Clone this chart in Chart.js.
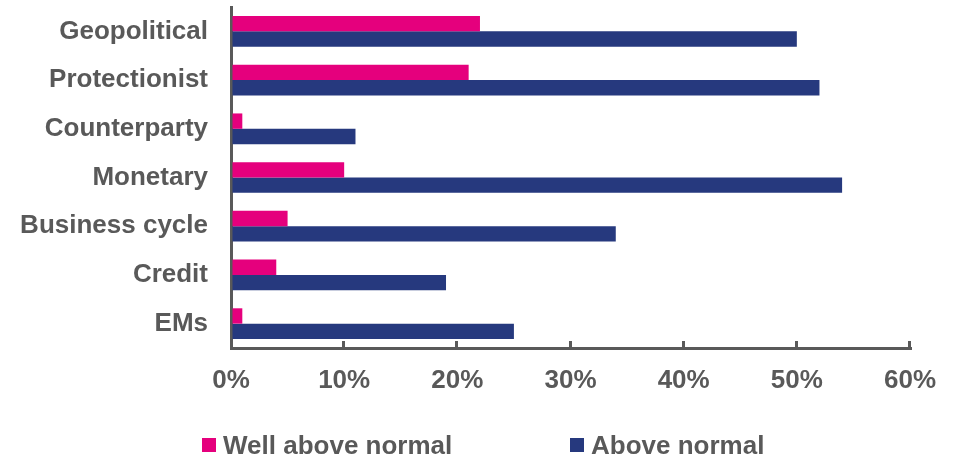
<!DOCTYPE html>
<html>
<head>
<meta charset="utf-8">
<script src="https://cdn.jsdelivr.net/npm/chart.js@4/dist/chart.umd.min.js"></script>
<style>
  body { margin: 0; background: #fff; }
  #wrap { position: relative; width: 953px; height: 456px; }
  #legend { position: absolute; top: 430px; left: 0; width: 953px; height: 30px;
            font: bold 26px "Liberation Sans", Arial, sans-serif; color: #595959; }
  .item { position: absolute; top: 0; display: flex; align-items: center; line-height: 30px; }
  .box { width: 14px; height: 14px; margin-right: 7px; }
</style>
</head>
<body>
<div id="wrap">
  <canvas id="grafico" width="953" height="456"></canvas>
  <div id="legend"></div>
</div>
<script>
// dados
var categories = ['Geopolitical', 'Protectionist', 'Counterparty', 'Monetary', 'Business cycle', 'Credit', 'EMs'];
var wellAbove = [22, 21, 1, 10, 5, 4, 1];
var aboveNormal = [50, 52, 11, 54, 34, 19, 25];
var seriesNames = ['Well above normal', 'Above normal'];
var xTicks = [0, 10, 20, 30, 40, 50, 60];

var pink = '#E5007D';
var navy = '#26397E';
var grey = '#595959';
var font = { family: '"Liberation Sans", Arial, sans-serif', size: 26, weight: 'bold' };

// marcas do eixo x para dentro
var innerTicks = {
    id: 'innerTicks',
    afterDraw: function (chart) {
        var x = chart.scales.x, ctx = chart.ctx, y0 = chart.chartArea.bottom;
        ctx.save();
        ctx.strokeStyle = grey;
        ctx.lineWidth = 3;
        xTicks.slice(1).forEach(function (v) {
            var px = Math.round(x.getPixelForValue(v)) - 0.5;
            ctx.beginPath();
            ctx.moveTo(px, y0);
            ctx.lineTo(px, y0 - 7);
            ctx.stroke();
        });
        ctx.restore();
    }
};

var ctx = document.querySelector('#grafico');
var chart = new Chart(ctx, {
    type: 'bar',
    data: {
        labels: categories,
        datasets: [{
            label: seriesNames[0],
            data: wellAbove,
            backgroundColor: pink,
            borderWidth: 0
        }, {
            label: seriesNames[1],
            data: aboveNormal,
            backgroundColor: navy,
            borderWidth: 0
        }]
    },
    options: {
        indexAxis: 'y',
        responsive: false,
        animation: false,
        devicePixelRatio: 1,
        layout: { padding: { top: 7, right: 43, bottom: 58, left: 0 } },
        datasets: { bar: { categoryPercentage: 0.63, barPercentage: 1.0 } },
        plugins: { legend: { display: false }, tooltip: { enabled: false } },
        scales: {
            x: {
                min: 0,
                max: 60,
                afterBuildTicks: function (s) { s.ticks = xTicks.map(function (v) { return { value: v }; }); },
                afterFit: function (s) { s.height = 50; s.paddingLeft = 0; s.paddingRight = 0; },
                ticks: {
                    color: grey,
                    font: font,
                    padding: 17,
                    maxRotation: 0,
                    callback: function (v) { return v + '%'; }
                },
                grid: { display: true, drawOnChartArea: false, drawTicks: false, color: grey, lineWidth: 3 },
                border: { display: true, color: grey, width: 3 }
            },
            y: {
                afterFit: function (s) { s.width = 231; s.paddingTop = 0; s.paddingBottom = 0; },
                ticks: { color: grey, font: font, padding: 23 },
                grid: { display: true, drawOnChartArea: false, drawTicks: false, color: grey, lineWidth: 3 },
                border: { display: true, color: grey, width: 3 }
            }
        }
    },
    plugins: [innerTicks]
});

// legenda
var legend = document.getElementById('legend');
var lefts = [202, 570];
chart.data.datasets.forEach(function (ds, i) {
    var it = document.createElement('div');
    it.className = 'item';
    it.style.left = lefts[i] + 'px';
    it.innerHTML = '<span class="box" style="background:' + ds.backgroundColor + '"></span><span></span>';
    it.lastChild.textContent = ds.label;
    legend.appendChild(it);
});
</script>
</body>
</html>
